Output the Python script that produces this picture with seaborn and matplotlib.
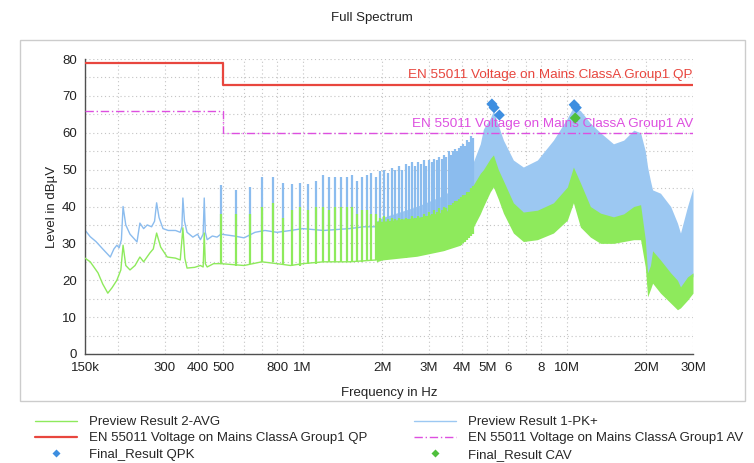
import numpy as np
import matplotlib
matplotlib.use("Agg")
import matplotlib.pyplot as plt
from matplotlib.lines import Line2D
from matplotlib.patches import Rectangle
from matplotlib.ticker import NullLocator
import seaborn as sns

# ---------------- data (frequency in MHz, level in dBuV) ----------------
# low-frequency part of the traces (150 kHz .. 0.49 MHz)
pk_low_f = [0.150, 0.157, 0.165, 0.175, 0.187, 0.193, 0.198, 0.202, 0.206, 0.209, 0.214, 0.222,
            0.236, 0.242, 0.250, 0.258, 0.268, 0.275, 0.280, 0.286, 0.296, 0.310, 0.330, 0.344,
            0.349, 0.352, 0.357, 0.365, 0.384, 0.400, 0.410, 0.420, 0.424, 0.428, 0.435, 0.455,
            0.474, 0.490]
pk_low_v = [33.6, 31.8, 30.5, 28.5, 26.3, 28.5, 29.5, 28.8, 31.0, 40.0, 35.0, 32.5,
            30.4, 35.5, 34.0, 35.0, 34.5, 36.0, 41.0, 37.0, 34.0, 33.5, 33.5, 33.0,
            34.5, 42.3, 36.0, 33.0, 31.7, 32.5, 31.0, 32.5, 42.3, 33.0, 31.0, 32.0,
            31.7, 32.5]
avg_low_f = [0.150, 0.157, 0.168, 0.175, 0.183, 0.190, 0.198, 0.205, 0.209, 0.214, 0.222, 0.232,
             0.242, 0.250, 0.264, 0.272, 0.280, 0.290, 0.307, 0.330, 0.344, 0.352, 0.358, 0.365,
             0.390, 0.410, 0.420, 0.424, 0.428, 0.435, 0.460, 0.490]
avg_low_v = [26.0, 25.0, 22.0, 19.0, 16.5, 18.0, 20.0, 22.8, 29.5, 24.0, 22.8, 24.0,
             26.3, 25.0, 27.4, 28.5, 32.8, 29.0, 26.3, 26.0, 25.5, 34.2, 26.0, 23.3,
             23.5, 24.0, 23.6, 32.8, 24.5, 23.6, 24.5, 24.5]

# baseline between harmonic lines (0.49 .. 1.9 MHz)
pk_base_f = [0.49, 0.55, 0.60, 0.66, 0.72, 0.80, 0.90, 1.00, 1.20, 1.50, 1.70, 1.90]
pk_base_v = [32.5, 32.0, 31.5, 33.0, 33.5, 33.0, 33.5, 34.0, 33.5, 34.0, 34.5, 34.5]
avg_base_f = [0.49, 0.60, 0.70, 0.80, 0.90, 1.00, 1.20, 1.50, 1.90]
avg_base_v = [24.5, 24.0, 25.0, 24.5, 24.0, 24.5, 25.0, 25.0, 25.5]

# harmonic lines
spike_f = [0.49, 0.56, 0.63, 0.70, 0.77, 0.84, 0.91, 0.98, 1.05, 1.12, 1.19, 1.26, 1.33, 1.40,
           1.47, 1.54, 1.61, 1.68, 1.75, 1.82, 1.89, 1.96, 2.03, 2.10, 2.17, 2.24, 2.31, 2.38,
           2.45, 2.52, 2.59, 2.66, 2.73, 2.80, 2.87, 2.94, 3.01, 3.08, 3.15, 3.22, 3.29, 3.36,
           3.43, 3.50, 3.57, 3.64, 3.71, 3.78, 3.85, 3.92, 3.99, 4.06, 4.13, 4.20, 4.27, 4.34, 4.41]
spike_pk_top = [45.8, 44.5, 45.3, 48.0, 48.0, 46.5, 46.0, 46.5, 46.0, 47.0, 48.5, 48.0, 48.0, 48.0,
                48.0, 48.5, 47.0, 48.0, 48.5, 49.0, 48.0, 49.5, 50.0, 49.0, 50.5, 50.0, 51.0, 50.0,
                51.5, 51.0, 52.0, 51.0, 52.0, 51.5, 52.5, 51.0, 52.5, 52.0, 53.0, 52.5, 53.5, 53.0,
                54.0, 53.5, 55.0, 54.0, 55.0, 55.5, 55.0, 56.0, 56.5, 57.0, 56.5, 58.0, 57.5, 59.0, 58.5]
spike_pk_base = [32.5, 32.0, 31.5, 33.0, 33.5, 33.0, 33.0, 33.5, 34.0, 34.0, 33.5, 33.5, 33.5, 34.0,
                 34.0, 34.0, 34.0, 34.5, 34.5, 34.5, 34.5, 34.5, 34.5, 35.0, 35.0, 35.0, 35.0, 35.5,
                 35.5, 35.5, 36.0, 36.0, 36.0, 36.0, 36.5, 36.5, 36.5, 37.0, 37.0, 37.0, 37.5, 37.5,
                 37.5, 38.0, 38.0, 38.5, 38.5, 39.0, 39.0, 39.5, 40.0, 40.5, 41.0, 41.5, 42.0, 42.5, 43.0]
spike_avg_top = [38.0, 38.0, 38.0, 40.0, 41.0, 37.0, 39.0, 40.0, 39.0, 40.0, 40.0, 39.0, 40.0, 40.0,
                 40.0, 40.0, 38.0, 39.0, 39.0, 38.0, 38.0, 37.0, 37.5, 36.5, 37.0, 36.5, 37.0, 36.5,
                 37.0, 36.5, 37.5, 37.0, 37.5, 37.0, 38.0, 37.5, 38.5, 38.0, 39.0, 38.5, 39.5, 39.0,
                 40.0, 39.5, 40.5, 40.5, 41.0, 41.5, 41.5, 42.0, 42.5, 43.0, 43.0, 44.0, 44.0, 45.0, 45.5]
spike_avg_base = [24.5, 24.0, 24.5, 25.0, 25.0, 24.5, 24.0, 24.0, 24.5, 24.5, 25.0, 25.0, 25.0, 25.0,
                  25.0, 25.0, 25.0, 25.0, 25.5, 25.5, 25.5, 25.5, 25.5, 26.0, 26.0, 26.0, 26.0, 26.0,
                  26.0, 26.5, 26.5, 26.5, 26.5, 27.0, 27.0, 27.0, 27.5, 27.5, 27.5, 28.0, 28.0, 28.0,
                  28.0, 28.5, 28.5, 29.0, 29.0, 29.0, 29.5, 29.5, 29.5, 30.0, 30.5, 31.0, 31.5, 32.0, 32.5]

# dense part of the spectrum (envelopes)
dense_f = [1.9, 2.0, 2.7, 3.4, 3.95, 4.31, 4.7, 4.83, 5.13, 5.27, 5.5, 5.75, 6.27, 6.84, 7.73,
           8.89, 10.04, 10.58, 11.25, 12.27, 13.4, 15.0, 16.4, 17.9, 19.0, 19.8, 20.2, 20.7,
           21.1, 22.6, 24.7, 26.2, 26.9, 28.6, 30.0]
pk_hi = [36.0, 37.0, 40.0, 43.0, 46.0, 50.0, 57.0, 61.0, 64.0, 66.0, 62.0, 58.0, 52.6, 50.7, 52.6,
         58.0, 64.0, 67.0, 66.0, 62.6, 60.0, 57.0, 58.0, 60.7, 60.0, 55.0, 50.7, 47.0,
         44.5, 43.6, 40.0, 35.5, 32.8, 40.0, 45.0]
pk_lo = [33.0, 33.5, 34.0, 35.0, 36.0, 38.0, 42.0, 44.0, 46.0, 46.0, 44.0, 40.0, 36.0, 34.0, 35.0,
         36.0, 40.0, 43.0, 38.0, 35.0, 33.0, 33.0, 33.0, 34.0, 34.0, 28.0, 20.0, 22.0,
         24.0, 22.0, 20.0, 18.0, 18.0, 20.0, 21.0]
avg_hi = [36.0, 36.0, 37.0, 38.5, 40.0, 44.5, 49.0, 50.0, 53.0, 54.0, 50.0, 47.0, 41.0, 38.5, 39.0,
          41.0, 45.3, 50.7, 46.4, 40.0, 38.2, 37.2, 38.0, 40.0, 40.5, 31.0, 22.0, 24.0,
          28.0, 25.5, 22.0, 20.0, 18.2, 20.9, 22.0]
avg_lo = [25.0, 25.5, 26.5, 28.0, 29.5, 32.8, 38.0, 40.0, 44.0, 45.3, 42.0, 38.2, 32.8, 30.5, 31.0,
          32.8, 36.3, 41.0, 34.4, 31.7, 30.0, 30.0, 30.5, 31.0, 31.0, 23.6, 15.5, 17.5,
          19.2, 16.5, 13.8, 12.0, 12.5, 14.6, 16.5]

# limit lines
qp_f = [0.15, 0.5, 0.5, 30.0]
qp_v = [79, 79, 73, 73]
av_f = [0.15, 0.5, 0.5, 30.0]
av_v = [66, 66, 60, 60]

# final results
qpk_f = [5.20, 5.30, 5.55, 10.65, 10.85]
qpk_v = [67.8, 66.8, 64.8, 67.6, 66.8]
cav_f = [10.75]
cav_v = [64.0]

xtick_f = [0.15, 0.2, 0.3, 0.4, 0.5, 0.6, 0.7, 0.8, 1, 2, 3, 4, 5, 6, 7, 8, 10, 20, 30]
xtick_lab = ["150k", "", "300", "400", "500", "", "", "800", "1M", "2M", "3M", "4M", "5M",
             "6", "", "8", "10M", "20M", "30M"]

# ---------------- style ----------------
sns.set_style("white")
plt.rcParams['font.family'] = ['Liberation Sans', 'DejaVu Sans']

C_PK = '#9cc8f2'
C_PK_LINE = '#8bbcee'
C_AVG = '#8eea5c'
C_QP = '#e8463e'
C_AV = '#dd4fe0'
C_QPK = '#3d8ee0'
C_CAV = '#4fbf3c'

M = 1e6
W, H = 754, 463
fig = plt.figure(figsize=(W / 100, H / 100), dpi=100)
ax = fig.add_axes([85 / W, (H - 354) / H, 608 / W, 295 / H])
ax.set_xscale('log')

hz = lambda a: np.asarray(a) * M

# PK+ trace
ax.fill_between(hz(dense_f), pk_lo, pk_hi, color=C_PK, lw=0, zorder=2)
ax.vlines(hz(spike_f), spike_pk_base, spike_pk_top, color=C_PK_LINE, lw=1.6, zorder=2)
sns.lineplot(x=hz(pk_low_f), y=pk_low_v, ax=ax, color=C_PK_LINE, lw=1.0,
             estimator=None, sort=False, zorder=2)
sns.lineplot(x=hz(pk_base_f), y=pk_base_v, ax=ax, color=C_PK_LINE, lw=1.0,
             estimator=None, sort=False, zorder=2)

# AVG trace
ax.fill_between(hz(dense_f), avg_lo, avg_hi, color=C_AVG, lw=0, zorder=3)
ax.vlines(hz(spike_f), spike_avg_base, spike_avg_top, color=C_AVG, lw=1.6, zorder=3)
sns.lineplot(x=hz(avg_low_f), y=avg_low_v, ax=ax, color=C_AVG, lw=1.0,
             estimator=None, sort=False, zorder=3)
sns.lineplot(x=hz(avg_base_f), y=avg_base_v, ax=ax, color=C_AVG, lw=1.0,
             estimator=None, sort=False, zorder=3)

# limits
sns.lineplot(x=hz(qp_f), y=qp_v, ax=ax, color=C_QP, lw=1.6, estimator=None, sort=False, zorder=4)
sns.lineplot(x=hz(av_f), y=av_v, ax=ax, color=C_AV, lw=1.0, estimator=None, sort=False,
             zorder=4, linestyle=(0, (6, 2, 1, 2)))
ax.text(30 * M, 75.6, "EN 55011 Voltage on Mains ClassA Group1 QP", color=C_QP,
        ha='right', va='center', fontsize=9.7, zorder=5)
ax.text(30 * M, 62.4, "EN 55011 Voltage on Mains ClassA Group1 AV", color=C_AV,
        ha='right', va='center', fontsize=9.7, zorder=5)

# final results
sns.scatterplot(x=hz(qpk_f), y=qpk_v, ax=ax, marker='D', color=C_QPK, s=32,
                edgecolor='none', zorder=6)
sns.scatterplot(x=hz(cav_f), y=cav_v, ax=ax, marker='D', color=C_CAV, s=32,
                edgecolor='none', zorder=6)

# axes
ax.set_xlim(0.15 * M, 30 * M)
ax.set_ylim(0, 80)
ax.set_xticks(hz(xtick_f))
ax.set_xticklabels(xtick_lab)
ax.xaxis.set_minor_locator(NullLocator())
ax.set_yticks(np.arange(0, 81, 5))
ax.set_yticklabels([str(v) if v % 10 == 0 else "" for v in range(0, 81, 5)])
ax.grid(True, which='major', color='#c4c4c4', lw=0.8, ls=(0, (1, 2.5)), zorder=0)
ax.set_axisbelow(True)
for s in ['top', 'right']:
    ax.spines[s].set_visible(False)
for s in ['left', 'bottom']:
    ax.spines[s].set_color('#505050')
    ax.spines[s].set_linewidth(1.0)
ax.tick_params(axis='both', direction='inout', length=6, width=0.8, color='#505050',
               labelsize=9.5, labelcolor='#222222', pad=3)
ax.set_xlabel("")
ax.set_ylabel("")

fig.text(372 / W, 1 - 18 / H, "Full Spectrum", ha='center', va='center', fontsize=9.5,
         color='#222222')
fig.text(389 / W, 1 - 393 / H, "Frequency in Hz", ha='center', va='center', fontsize=9.5,
         color='#222222')
fig.text(52 / W, 1 - 207 / H, "Level in dB\u00b5V", ha='center', va='center', fontsize=9.5,
         rotation=90, color='#222222')

fig.patches.append(Rectangle((20 / W, (H - 401) / H), 725 / W, 361 / H, transform=fig.transFigure,
                             fill=False, ec='#cccccc', lw=1.0))

# legend (two columns)
h1 = [Line2D([], [], color=C_AVG, lw=1.0),
      Line2D([], [], color=C_QP, lw=1.6),
      Line2D([], [], color=C_QPK, marker='D', ls='None', ms=4.5, mec='none')]
l1 = ["Preview Result 2-AVG", "EN 55011 Voltage on Mains ClassA Group1 QP", "Final_Result QPK"]
h2 = [Line2D([], [], color=C_PK, lw=1.0),
      Line2D([], [], color=C_AV, lw=1.0, ls=(0, (6, 2, 1, 2))),
      Line2D([], [], color=C_CAV, marker='D', ls='None', ms=4.5, mec='none')]
l2 = ["Preview Result 1-PK+", "EN 55011 Voltage on Mains ClassA Group1 AV", "Final_Result CAV"]
kw = dict(loc='upper left', frameon=False, fontsize=9.5, handlelength=3.2, handletextpad=0.9,
          labelspacing=0.3, borderpad=0, borderaxespad=0)
fig.legend(h1, l1, bbox_to_anchor=(35 / W, 1 - 416 / H), **kw)
fig.legend(h2, l2, bbox_to_anchor=(414 / W, 1 - 416 / H), **kw)

fig.savefig("out.png", dpi=100)
